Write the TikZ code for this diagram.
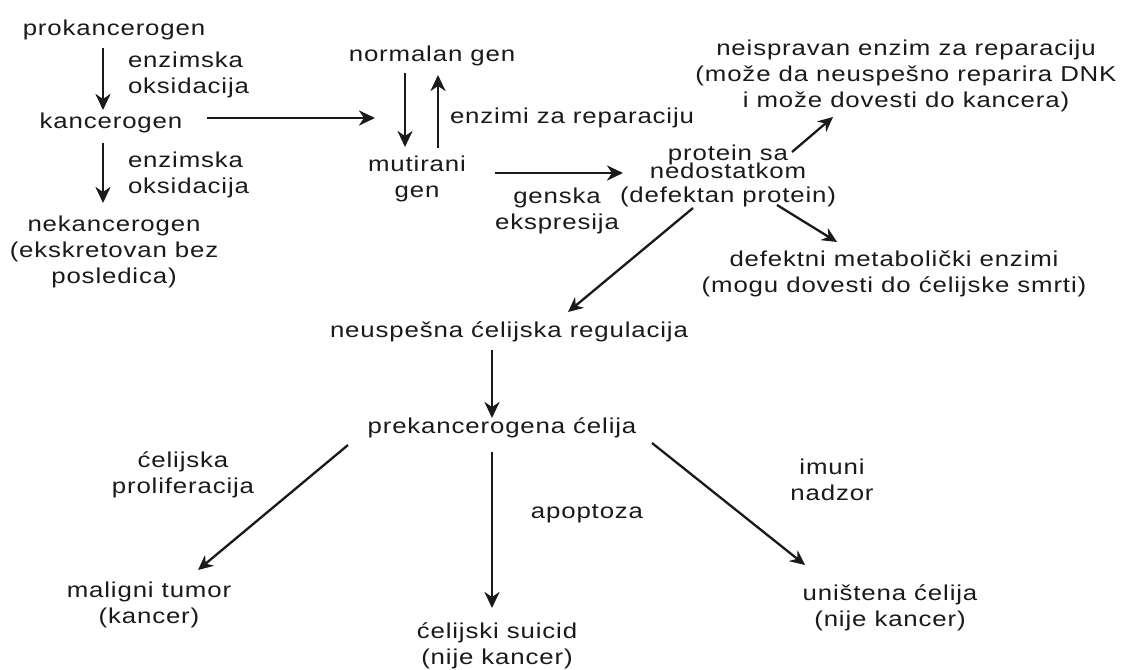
\documentclass[tikz,border=0pt]{standalone}
\usepackage{fontspec}
\setmainfont{Liberation Sans}[FakeStretch=1.2,LetterSpace=4]
\usetikzlibrary{arrows.meta,calc}
\definecolor{ink}{HTML}{1A1A1A}
\begin{document}
\begin{tikzpicture}[x=1pt,y=-1pt,
  txt/.style={inner sep=0pt,outer sep=0pt,text=ink,align=center,anchor=base,font=\fontsize{21.5}{26}\selectfont},
  lbl/.style={txt},
  lbll/.style={txt,align=left,anchor=base west},
  arr/.style={draw=ink,line width=2.8pt,-{Stealth[length=16pt,width=15pt,inset=5pt]}},
  darr/.style={draw=ink,line width=2.3pt,-{Stealth[length=15pt,width=14pt,inset=5pt]}}]
\useasboundingbox[fill=white] (0,0) rectangle (1123,669);

% multi-line nodes are placed at the baseline of their last line
\node[txt] (pro) at (114,36) {prokancerogen};
\node[lbll] (ox1) at (128,93) {enzimska\\oksidacija};
\node[txt] (kan) at (111,128) {kancerogen};
\node[lbll] (ox2) at (128,193) {enzimska\\oksidacija};
\node[txt] (nek) at (114,283) {nekancerogen\\(ekskretovan bez\\posledica)};

\node[txt] (norm) at (432,62) {normalan gen};
\node[lbll] (rep) at (450,123) {enzimi za reparaciju};
\node[txt] (mut) at (417,197) {mutirani\\gen};
\node[lbl] (gen) at (557,229) {genska\\ekspresija};

\node[txt] (prot) at (728,202) {protein sa\\[-8pt]nedostatkom\\[-2pt](defektan protein)};
\node[txt] (neisp) at (906,107) {neispravan enzim za reparaciju\\(može da neuspešno reparira DNK\\i može dovesti do kancera)};
\node[txt] (defm) at (894,292) {defektni metabolički enzimi\\(mogu dovesti do ćelijske smrti)};

\node[txt] (neus) at (509,337) {neuspešna ćelijska regulacija};
\node[txt] (prek) at (502,433) {prekancerogena ćelija};
\node[lbl] (prol) at (183,493) {ćelijska\\proliferacija};
\node[lbl] (apop) at (587,518) {apoptoza};
\node[lbl] (imun) at (832,500) {imuni\\nadzor};
\node[txt] (malig) at (149,623) {maligni tumor\\(kancer)};
\node[txt] (suic) at (497,664) {ćelijski suicid\\(nije kancer)};
\node[txt] (unist) at (890,626) {uništena ćelija\\(nije kancer)};

\draw[arr] ([shift={(-11,12)}]pro.base) -- ([shift={(-8,-18)}]kan.base);
\draw[arr] ([shift={(-8,15)}]kan.base) -- ([shift={(-11,-80)}]nek.base);
\draw[arr] ([shift={(96,-10)}]kan.base) -- ([shift={(-42,-79)}]mut.base);
\draw[arr] ([shift={(-27,11)}]norm.base) -- ([shift={(-12,-50)}]mut.base);
\draw[arr] ([shift={(21,-49)}]mut.base) -- ([shift={(6,13)}]norm.base);
\draw[arr] ([shift={(78,-24)}]mut.base) -- ([shift={(-105,-29)}]prot.base);
\draw[darr] ([shift={(64,-50)}]prot.base) -- ([shift={(-73,10)}]neisp.base);
\draw[darr] ([shift={(49,3)}]prot.base) -- ([shift={(-57,-50)}]defm.base);
\draw[darr] ([shift={(-35,6)}]prot.base) -- ([shift={(59,-25)}]neus.base);
\draw[arr] ([shift={(-17,13)}]neus.base) -- ([shift={(-10,-15)}]prek.base);
\draw[darr] ([shift={(-154,12)}]prek.base) -- ([shift={(49,-53)}]malig.base);
\draw[arr] ([shift={(-10,19)}]prek.base) -- ([shift={(-5,-56)}]suic.base);
\draw[darr] ([shift={(150,10)}]prek.base) -- ([shift={(-85,-61)}]unist.base);
\end{tikzpicture}
\end{document}
